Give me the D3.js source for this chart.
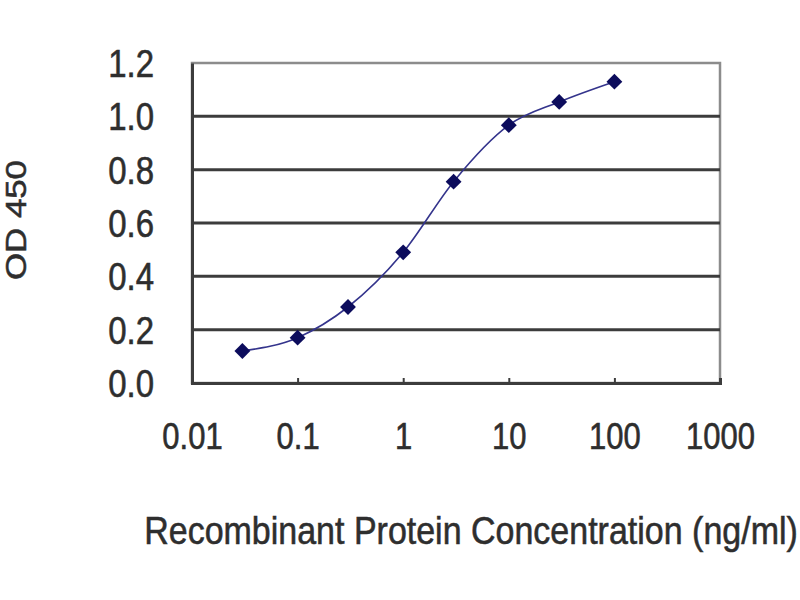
<!DOCTYPE html>
<html>
<head>
<meta charset="utf-8">
<script src="https://cdn.jsdelivr.net/npm/d3@7"></script>
<style>
  body { margin: 0; background: #fff; }
  text { font-family: "Liberation Sans", Arial, sans-serif; fill: #2e2e2e; stroke: #2e2e2e; stroke-width: 0.5; }
</style>
</head>
<body>
<div id="chart"></div>
<script>
// data
var concentrations = [0.03, 0.1, 0.3, 1, 3, 10, 30, 100];
var odValues = [0.12, 0.17, 0.285, 0.49, 0.755, 0.967, 1.054, 1.13];
var xTicks = [0.01, 0.1, 1, 10, 100, 1000];
var yTicks = [0.0, 0.2, 0.4, 0.6, 0.8, 1.0, 1.2];
var xTitle = "Recombinant Protein Concentration (ng/ml)";
var yTitle = "OD 450";

var data = concentrations.map(function (c, i) { return {x: c, y: odValues[i]}; });

// set the dimensions and margins of the graph
var margin = {top: 63, right: 80, bottom: 217, left: 192},
    width = 800 - margin.left - margin.right,
    height = 600 - margin.top - margin.bottom;

var svg = d3.select("#chart")
  .append("svg")
    .attr("width", 800)
    .attr("height", 600)
  .append("g")
    .attr("transform", "translate(" + margin.left + "," + margin.top + ")");

var x = d3.scaleLog().domain([0.01, 1000]).range([0, width]);
var y = d3.scaleLinear().domain([0, 1.2]).range([height, 0]);

// plot frame (light grey top/right)
svg.append("rect")
  .attr("x", 0).attr("y", 0)
  .attr("width", width).attr("height", height)
  .attr("fill", "#fff")
  .attr("stroke", "#8c8c8c")
  .attr("stroke-width", 2.5);

// horizontal gridlines
svg.append("g")
  .selectAll("line")
  .data(yTicks.filter(function (d) { return d > 0 && d < 1.2; }))
  .enter()
  .append("line")
    .attr("x1", 0).attr("x2", width)
    .attr("y1", function (d) { return y(d); })
    .attr("y2", function (d) { return y(d); })
    .attr("stroke", "#3c3c3c")
    .attr("stroke-width", 3);

// Y axis
var yAxis = svg.append("g")
  .call(d3.axisLeft(y).tickValues(yTicks).tickSize(0).tickPadding(38)
    .tickFormat(d3.format(".1f")));
yAxis.select(".domain").attr("stroke", "#3c3c3c").attr("stroke-width", 3);
yAxis.selectAll("text")
  .attr("x", null).attr("dy", null)
  .attr("font-size", 33)
  .attr("text-anchor", "end")
  .attr("dominant-baseline", "central")
  .attr("transform", function () { return "translate(-38,0) scale(1,1.18)"; });

// X axis
var xAxis = svg.append("g")
  .attr("transform", "translate(0," + height + ")")
  .call(d3.axisBottom(x).tickValues(xTicks).tickSize(-5).tickPadding(0)
    .tickFormat(function (d) { return String(d); }));
xAxis.select(".domain").attr("stroke", "#3c3c3c").attr("stroke-width", 3);
xAxis.selectAll(".tick line").attr("stroke", "#3c3c3c").attr("stroke-width", 2);
xAxis.selectAll("text")
  .attr("y", null).attr("dy", null)
  .attr("font-size", 31)
  .attr("text-anchor", "middle")
  .attr("dominant-baseline", "central")
  .attr("transform", "translate(0,53) scale(1,1.2)");

// fitted curve
svg.append("path")
  .datum(data)
  .attr("fill", "none")
  .attr("stroke", "#34348c")
  .attr("stroke-width", 1.6)
  .attr("d", d3.line()
    .curve(d3.curveMonotoneX)
    .x(function (d) { return x(d.x); })
    .y(function (d) { return y(d.y); }));

// diamond markers
svg.append("g")
  .selectAll("path")
  .data(data)
  .enter()
  .append("path")
    .attr("d", d3.symbol().type(d3.symbolDiamond2).size(160))
    .attr("transform", function (d) { return "translate(" + x(d.x) + "," + y(d.y) + ")"; })
    .attr("fill", "#0c0c5c");

// axis titles
svg.append("text")
  .attr("font-size", 34)
  .attr("text-anchor", "middle")
  .attr("dominant-baseline", "central")
  .attr("transform", "translate(" + (471 - margin.left) + "," + (531 - margin.top) + ") scale(1,1.15)")
  .text(xTitle);

svg.append("text")
  .attr("font-size", 29)
  .attr("text-anchor", "middle")
  .attr("dominant-baseline", "central")
  .attr("transform", "translate(" + (16 - margin.left) + "," + (220 - margin.top) + ") scale(1,1.2) rotate(-90)")
  .text(yTitle);
</script>
</body>
</html>
